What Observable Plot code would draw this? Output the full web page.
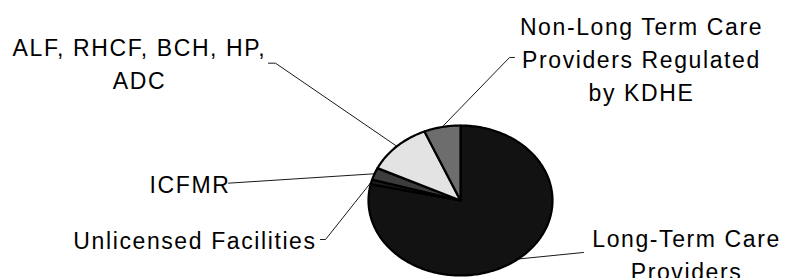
<!DOCTYPE html>
<html>
<head>
<meta charset="utf-8">
<script src="https://cdn.jsdelivr.net/npm/d3@7"></script>
<script src="https://cdn.jsdelivr.net/npm/@observablehq/plot@0.6"></script>
<style>
  html, body { margin: 0; padding: 0; background: #fff; }
  svg { display: block; }
  svg text { letter-spacing: 1.6px; }
</style>
</head>
<body>
<div id="chart"></div>
<script>
// ---- data ----
const categories = [
  "Long-Term Care Providers",
  "Unlicensed Facilities",
  "ICFMR",
  "ALF, RHCF, BCH, HP, ADC",
  "Non-Long Term Care Providers Regulated by KDHE"
];
const values = [78.5, 1.0, 2.6, 11.5, 6.4];
const labelText = [
  "Long-Term Care\nProviders",
  "Unlicensed Facilities",
  "ICFMR",
  "ALF, RHCF, BCH, HP,\nADC",
  "Non-Long Term Care\nProviders Regulated\nby KDHE"
];

// ---- styles ----
const sliceColors = ["#121212", "#1c1c1c", "#3c3c3c", "#e3e3e3", "#6d6d6d"];

// ---- layout (in pie-radius units; pie drawn as unit circle) ----
const labelAnchor = [[2.457, -1.063], [-2.886, -0.644], [-2.94, 0.097], [-3.49, 1.489], [1.967, 1.333]];
const leaderStart = [
  [[1.337, -0.693]],
  [[-1.522, -0.52], [-1.467, -0.52]],
  [[-2.522, 0.231]],
  [[-2.087, 1.831], [-2.011, 1.831]],
  [[0.587, 1.907], [0.533, 1.907]]
];

// ---- pie geometry from values ----
const total = d3.sum(values);
let acc = 0;
const slices = categories.map((c, i) => {
  const a0 = acc / total * 2 * Math.PI;
  acc += values[i];
  const a1 = acc / total * 2 * Math.PI;
  return {c, i, a0, a1, mid: (a0 + a1) / 2};
});

const piePts = slices.flatMap(s => {
  const n = Math.max(2, Math.ceil((s.a1 - s.a0) / (Math.PI / 180)));
  const pts = [{c: s.c, u: 0, v: 0}];
  for (let k = 0; k <= n; k++) {
    const a = s.a0 + (s.a1 - s.a0) * k / n;
    pts.push({c: s.c, u: Math.sin(a), v: Math.cos(a)});
  }
  pts.push({c: s.c, u: 0, v: 0});
  return pts;
});

const leaderPts = slices.flatMap(s => {
  const pts = leaderStart[s.i].map(([u, v]) => ({c: s.c, u, v}));
  pts.push({c: s.c, u: Math.sin(s.mid), v: Math.cos(s.mid)});
  return pts;
});

const labels = slices.map(s => ({
  c: s.c,
  text: labelText[s.i],
  u: labelAnchor[s.i][0],
  v: labelAnchor[s.i][1]
}));

const chart = Plot.plot({
  width: 788,
  height: 278,
  marginLeft: 368,
  marginRight: 236,
  marginTop: 125,
  marginBottom: 3,
  x: {domain: [-1, 1], axis: null},
  y: {domain: [-1, 1], axis: null},
  color: {type: "ordinal", domain: categories, range: sliceColors},
  style: {fontFamily: "'Liberation Sans', Arial, sans-serif", background: "#fff"},
  marks: [
    Plot.line(leaderPts, {x: "u", y: "v", z: "c", stroke: "#1a1a1a", strokeWidth: 1}),
    Plot.line(piePts, {x: "u", y: "v", z: "c", fill: "c", stroke: "#000", strokeWidth: 2.2, strokeLinejoin: "round"}),
    Plot.text(labels, {
      x: "u", y: "v", text: "text",
      lineAnchor: "bottom", textAnchor: "middle",
      fontSize: 23, lineHeight: 1.435, fill: "#000"
    })
  ]
});
document.getElementById("chart").appendChild(chart);
</script>
</body>
</html>
